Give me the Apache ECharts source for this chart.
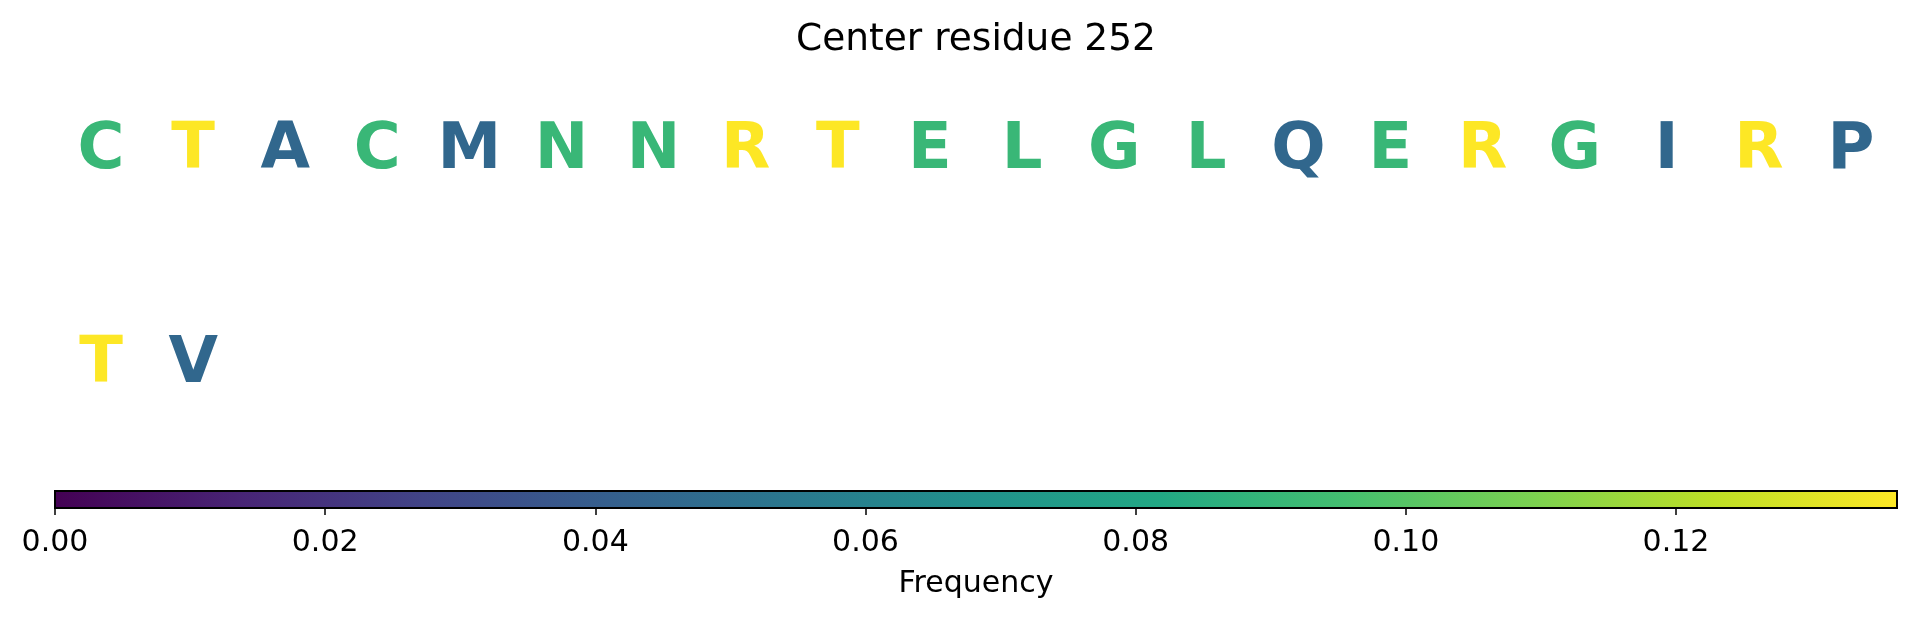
<!DOCTYPE html>
<html>
<head>
<meta charset="utf-8">
<script src="https://cdn.jsdelivr.net/npm/echarts@6/dist/echarts.min.js"></script>
<style>
html,body{margin:0;padding:0;background:#fff;}
#chart{width:1917px;height:619px;}
</style>
</head>
<body>
<div id="chart"></div>
<script>
// ---- data ----
const titleText = "Center residue 252";
const residues = ["C","T","A","C","M","N","N","R","T","E","L","G","L","Q","E","R","G","I","R","P","T","V"];
const frequencies = [0.0909,0.1364,0.0455,0.0909,0.0455,0.0909,0.0909,0.1364,0.1364,0.0909,0.0909,0.0909,0.0909,0.0455,0.0909,0.1364,0.0909,0.0455,0.1364,0.0455,0.1364,0.0455];
const colorbarMin = 0;
const colorbarMax = 0.13636;
const colorbarTicks = [0.00,0.02,0.04,0.06,0.08,0.10,0.12];
const colorbarLabel = "Frequency";
const perRow = 20;

// ---- viridis colormap ----
const viridis = ["#440154","#482475","#414487","#355f8d","#2a788e","#21918c","#22a884","#44bf70","#7ad151","#bddf26","#fde725"];
function hex2rgb(h){return [parseInt(h.substr(1,2),16),parseInt(h.substr(3,2),16),parseInt(h.substr(5,2),16)];}
function cmap(v){
  let t=(v-colorbarMin)/(colorbarMax-colorbarMin); t=Math.max(0,Math.min(1,t));
  const n=viridis.length-1, p=t*n, i=Math.min(Math.floor(p),n-1), f=p-i;
  const a=hex2rgb(viridis[i]), b=hex2rgb(viridis[i+1]);
  const c=a.map((x,k)=>Math.round(x+(b[k]-x)*f));
  return "rgb("+c.join(",")+")";
}

const letterData = residues.map((r,i)=>({
  value:[i%perRow, Math.floor(i/perRow), frequencies[i]],
  name:r,
  label:{color:cmap(frequencies[i])}
}));

const FONT = "DejaVu Sans";
const GRID_LEFT = 55, GRID_RIGHT = 20, WIDTH = 1917;
const chart = echarts.init(document.getElementById('chart'), null, {renderer:'canvas'});
chart.setOption({
  animation:false,
  backgroundColor:'#fff',
  title:{
    text:titleText, left:(GRID_LEFT + (WIDTH - GRID_RIGHT))/2, textAlign:'center', top:21, padding:0,
    textStyle:{fontFamily:FONT, fontSize:37.5, fontWeight:'normal', color:'#000'}
  },
  grid:[
    {left:GRID_LEFT, right:GRID_RIGHT, top:44, height:428, outerBoundsMode:'none', containLabel:false},
    {left:GRID_LEFT, right:GRID_RIGHT, top:491, height:17, outerBoundsMode:'none', containLabel:false}
  ],
  xAxis:[
    {gridIndex:0, type:'value', min:-0.5, max:perRow-0.5, show:false},
    {gridIndex:1, type:'value', min:colorbarMin, max:colorbarMax, interval:0.02,
     axisLine:{show:false},
     axisTick:{show:true, length:7, lineStyle:{color:'#000', width:1.5}},
     splitLine:{show:false},
     axisLabel:{fontFamily:FONT, fontSize:30, color:'#000', margin:20,
       showMaxLabel:false, showMinLabel:true,
       formatter:v=>(colorbarTicks.some(t=>Math.abs(t-v)<1e-9)? v.toFixed(2):'')},
     name:colorbarLabel, nameLocation:'middle', nameGap:61,
     nameTextStyle:{fontFamily:FONT, fontSize:30, color:'#000'}
    }
  ],
  yAxis:[
    {gridIndex:0, type:'value', min:-0.5, max:1.5, inverse:true, show:false},
    {gridIndex:1, type:'value', min:0, max:1, show:false}
  ],
  series:[
    {
      type:'scatter', xAxisIndex:0, yAxisIndex:0, silent:true,
      symbolSize:1, itemStyle:{color:'rgba(0,0,0,0)', opacity:1},
      label:{show:true, position:'inside', formatter:p=>p.name,
        fontFamily:FONT, fontSize:64, fontWeight:'bold'},
      data:letterData
    },
    {
      type:'custom', xAxisIndex:1, yAxisIndex:1, silent:true,
      data:[[colorbarMin,colorbarMax]],
      renderItem:function(params, api){
        const p0=api.coord([api.value(0),0]);
        const p1=api.coord([api.value(1),1]);
        const stops=viridis.map((c,i)=>({offset:i/(viridis.length-1), color:c}));
        return {
          type:'rect',
          shape:{x:p0[0], y:p1[1], width:p1[0]-p0[0], height:p0[1]-p1[1]},
          style:{fill:new echarts.graphic.LinearGradient(0,0,1,0,stops), stroke:'#000', lineWidth:2}
        };
      }
    }
  ]
});
</script>
</body>
</html>
